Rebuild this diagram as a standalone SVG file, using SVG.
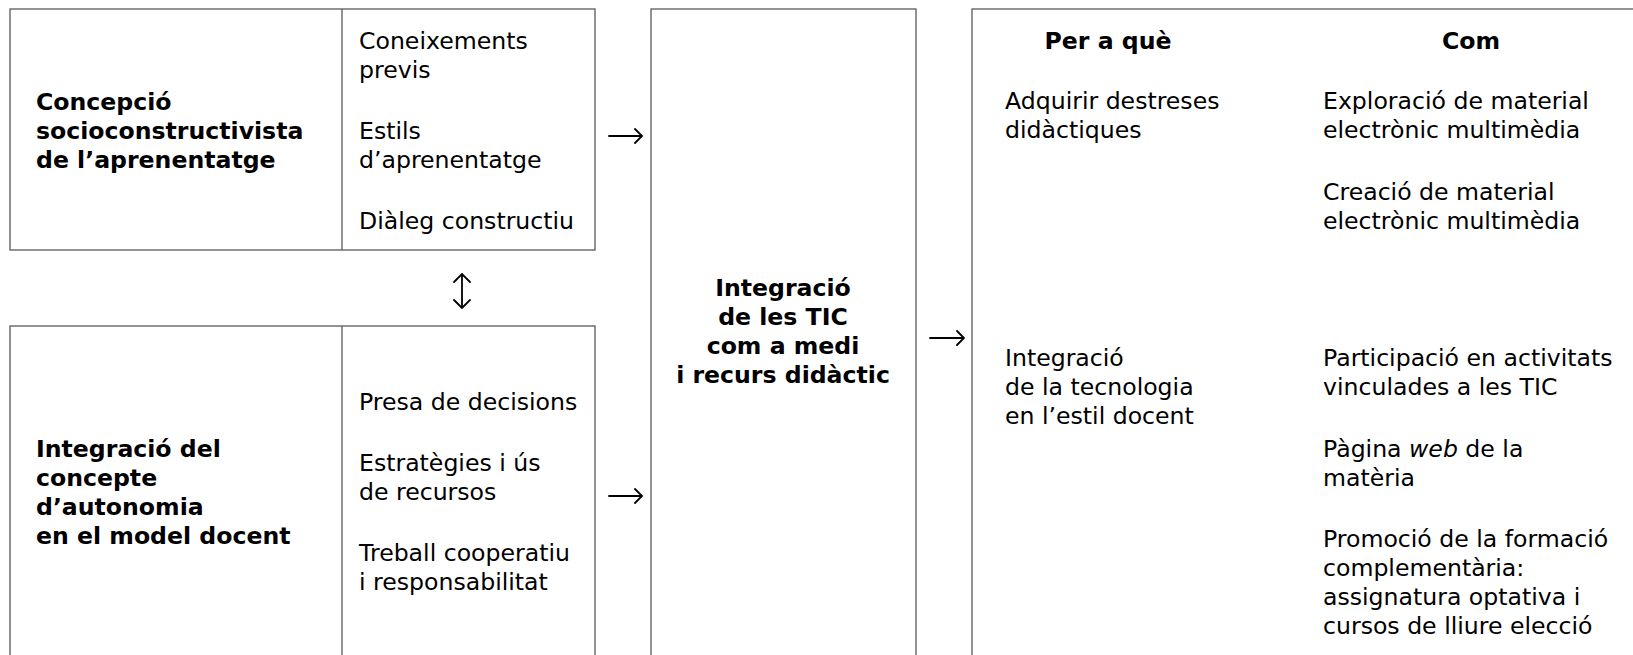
<svg xmlns="http://www.w3.org/2000/svg" width="1633" height="655" viewBox="0 0 1633 655">
<style>
.box{fill:#fff;stroke:#5a5a5a;stroke-width:1.3}
.div{stroke:#5a5a5a;stroke-width:1.3}
text{font-family:"DejaVu Sans","Verdana",sans-serif;font-size:23.6px;fill:#000}
.b{font-weight:bold}
.c{text-anchor:middle}
.arr{fill:none;stroke:#000;stroke-width:1.8;stroke-linecap:round;stroke-linejoin:miter}
</style>
<rect width="1633" height="655" fill="#fff"/>
<g id="node-concepcio">
<rect class="box" x="10" y="9" width="585" height="241"/>
<line class="div" x1="342" y1="9" x2="342" y2="250"/>
<text class="b" x="36" y="110">Concepció</text>
<text class="b" x="36" y="139">socioconstructivista</text>
<text class="b" x="36" y="168">de l’aprenentatge</text>
<text x="359" y="49">Coneixements</text>
<text x="359" y="78">previs</text>
<text x="359" y="139">Estils</text>
<text x="359" y="168">d’aprenentatge</text>
<text x="359" y="229">Diàleg constructiu</text>
</g>
<g id="node-autonomia">
<rect class="box" x="10" y="326" width="585" height="345"/>
<line class="div" x1="342" y1="326" x2="342" y2="671"/>
<text class="b" x="36" y="457">Integració del</text>
<text class="b" x="36" y="486">concepte</text>
<text class="b" x="36" y="515">d’autonomia</text>
<text class="b" x="36" y="544">en el model docent</text>
<text x="359" y="410">Presa de decisions</text>
<text x="359" y="471">Estratègies i ús</text>
<text x="359" y="500">de recursos</text>
<text x="359" y="561">Treball cooperatiu</text>
<text x="359" y="590">i responsabilitat</text>
</g>
<g id="node-tic">
<rect class="box" x="651" y="9" width="265" height="662"/>
<text class="b c" x="783" y="296">Integració</text>
<text class="b c" x="783" y="325">de les TIC</text>
<text class="b c" x="783" y="354">com a medi</text>
<text class="b c" x="783" y="383">i recurs didàctic</text>
</g>
<g id="node-objectius">
<rect class="box" x="972" y="9" width="700" height="662"/>
<text class="b c" x="1108" y="49">Per a què</text>
<text class="b c" x="1471" y="49">Com</text>
<text x="1005" y="109">Adquirir destreses</text>
<text x="1005" y="138">didàctiques</text>
<text x="1323" y="109">Exploració de material</text>
<text x="1323" y="138">electrònic multimèdia</text>
<text x="1323" y="200">Creació de material</text>
<text x="1323" y="229">electrònic multimèdia</text>
<text x="1005" y="366">Integració</text>
<text x="1005" y="395">de la tecnologia</text>
<text x="1005" y="424">en l’estil docent</text>
<text x="1323" y="366">Participació en activitats</text>
<text x="1323" y="395">vinculades a les TIC</text>
<text x="1323" y="457">Pàgina <tspan font-style="italic">web</tspan> de la</text>
<text x="1323" y="486">matèria</text>
<text x="1323" y="547">Promoció de la formació</text>
<text x="1323" y="576">complementària:</text>
<text x="1323" y="605">assignatura optativa i</text>
<text x="1323" y="634">cursos de lliure elecció</text>
</g>
<g id="connectors">
<path class="arr" d="M609 136H642M635 129L642 136L635 143"/>
<path class="arr" d="M609 496H642M635 489L642 496L635 503"/>
<path class="arr" d="M930 338H964M957 331L964 338L957 345"/>
<path class="arr" d="M462 274V308M454 282L462 274L470 282M454 300L462 308L470 300"/>
</g>
</svg>
